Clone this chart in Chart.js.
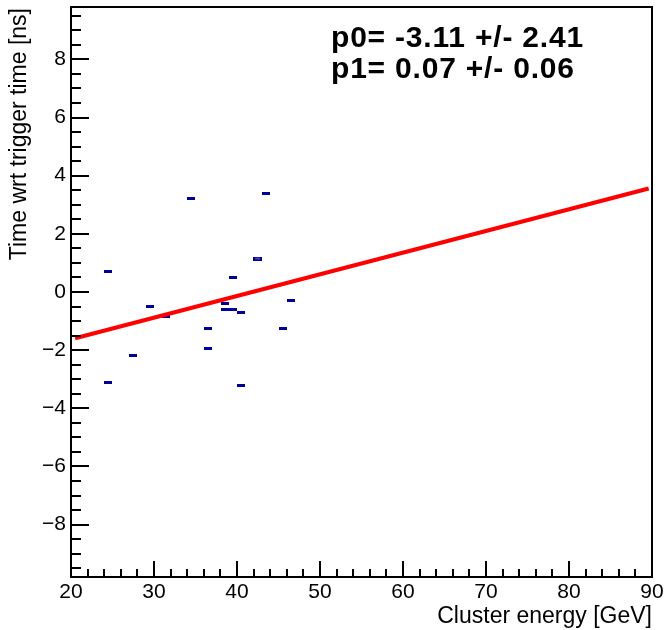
<!DOCTYPE html>
<html><head><meta charset="utf-8">
<script src="https://cdn.jsdelivr.net/npm/chart.js@4/dist/chart.umd.min.js"></script>
<style>html,body{margin:0;padding:0;background:#fff;} canvas{display:block;}</style>
</head><body>
<canvas id="c" width="667" height="630" style="width:667px;height:630px"></canvas>
<script>
// ---- data ----
const xTitle = "Cluster energy [GeV]";
const yTitle = "Time wrt trigger time [ns]";
const clusterEnergy = [24.5, 24.5, 27.5, 29.5, 31.5, 34.5, 36.5, 36.5, 38.5, 38.5, 39.5, 39.5, 40.5, 40.5, 42.5, 43.5, 45.5, 46.5];
const timeWrtTrigger = [0.7, -3.1, -2.2, -0.5, -0.85, 3.2, -1.25, -1.95, -0.4, -0.6, -0.6, 0.5, -0.7, -3.2, 1.15, 3.4, -1.25, -0.3];
const doubleEntry = [false, false, false, false, false, false, false, false, false, false, false, false, false, false, true, false, false, false];
const fitX = [20.5, 89.6];
const fitY = [-1.59, 3.56];
const fitLabels = ["p0= -3.11 +/- 2.41", "p1= 0.07 +/- 0.06"];
const xTickLabels = [20, 30, 40, 50, 60, 70, 80, 90];
const yTickLabels = [-8, -6, -4, -2, 0, 2, 4, 6, 8];

const FONT = '"Liberation Sans", Arial, Helvetica, sans-serif';

function makeBox(hollow) {
  const c = document.createElement('canvas');
  if (hollow) {
    c.width = 9; c.height = 4;
    const g = c.getContext('2d');
    g.fillStyle = '#000099'; g.fillRect(0, 0, 9, 4);
    g.fillStyle = '#8a8ac8'; g.fillRect(2, 1.5, 5, 1);
  } else {
    c.width = 8; c.height = 3;
    const g = c.getContext('2d');
    g.fillStyle = '#000099'; g.fillRect(0, 0, 8, 3);
  }
  return c;
}
const boxSolid = makeBox(false);
const boxHollow = makeBox(true);

const points = clusterEnergy.map((x, i) => ({ x: x, y: timeWrtTrigger[i] }));
const fitLine = fitX.map((x, i) => ({ x: x, y: fitY[i] }));

const frameAndText = {
  id: 'frameAndText',
  afterDraw(chart) {
    const ctx = chart.ctx;
    const a = chart.chartArea;
    const xs = chart.scales.x, ys = chart.scales.y;
    ctx.save();
    ctx.strokeStyle = '#000';
    ctx.lineWidth = 2;
    ctx.strokeRect(a.left, a.top, a.right - a.left, a.bottom - a.top);
    ctx.beginPath();
    for (let v = xs.min; v <= xs.max + 1e-9; v += 2) {
      const p = Math.round(xs.getPixelForValue(v));
      const len = (Math.abs(v % 10) < 1e-9) ? 16 : 8;
      ctx.moveTo(p, a.bottom); ctx.lineTo(p, a.bottom - len);
    }
    for (let v = -9.5; v <= 9.5 + 1e-9; v += 0.5) {
      const p = Math.round(ys.getPixelForValue(v));
      const len = (Math.abs(v % 2) < 1e-9) ? 18 : 10;
      ctx.moveTo(a.left, p); ctx.lineTo(a.left + len, p);
    }
    ctx.stroke();
    // axis titles
    ctx.fillStyle = '#000';
    ctx.font = '23px ' + FONT;
    ctx.textAlign = 'right';
    ctx.textBaseline = 'alphabetic';
    ctx.fillText(xTitle, a.right, 623);
    ctx.save();
    ctx.translate(26, a.top + 1);
    ctx.rotate(-Math.PI / 2);
    ctx.fillText(yTitle, 0, 0);
    ctx.restore();
    // fit parameters
    ctx.font = 'bold 30px ' + FONT;
    try { ctx.letterSpacing = '0.8px'; } catch (e) {}
    ctx.textAlign = 'left';
    ctx.fillText(fitLabels[0], 331, 47);
    ctx.fillText(fitLabels[1], 331, 78);
    ctx.restore();
  }
};

new Chart(document.getElementById('c'), {
  type: 'scatter',
  data: {
    datasets: [
      {
        label: 'data',
        data: points,
        pointStyle: doubleEntry.map(d => d ? boxHollow : boxSolid),
        pointRadius: 4,
        pointHoverRadius: 4,
        order: 2
      },
      {
        type: 'line',
        label: 'fit',
        data: fitLine,
        borderColor: '#ff0000',
        borderWidth: 4,
        pointRadius: 0,
        fill: false,
        order: 1
      }
    ]
  },
  options: {
    responsive: false,
    animation: false,
    events: [],
    layout: { padding: { left: 0, right: 15, top: 7, bottom: 0 } },
    plugins: { legend: { display: false }, tooltip: { enabled: false }, title: { display: false } },
    scales: {
      x: {
        type: 'linear', min: 20, max: 90,
        grid: { display: false, drawTicks: false },
        border: { display: false },
        afterFit(s) { s.height = 53; s.paddingLeft = 0; s.paddingRight = 0; },
        afterBuildTicks(s) { s.ticks = xTickLabels.map(v => ({ value: v })); },
        ticks: {
          padding: 3,
          color: '#000',
          font: { family: FONT, size: 21 },
          maxRotation: 0,
          autoSkip: false,
          callback: v => String(v)
        }
      },
      y: {
        type: 'linear', min: -9.8, max: 9.8,
        grid: { display: false, drawTicks: false },
        border: { display: false },
        afterFit(s) { s.width = 71; s.paddingTop = 0; s.paddingBottom = 0; },
        afterBuildTicks(s) { s.ticks = yTickLabels.map(v => ({ value: v })); },
        ticks: {
          padding: 5,
          color: '#000',
          font: { family: FONT, size: 21 },
          autoSkip: false,
          callback: v => String(v).replace('-', '\u2212')
        }
      }
    }
  },
  plugins: [frameAndText]
});
</script>
</body></html>
